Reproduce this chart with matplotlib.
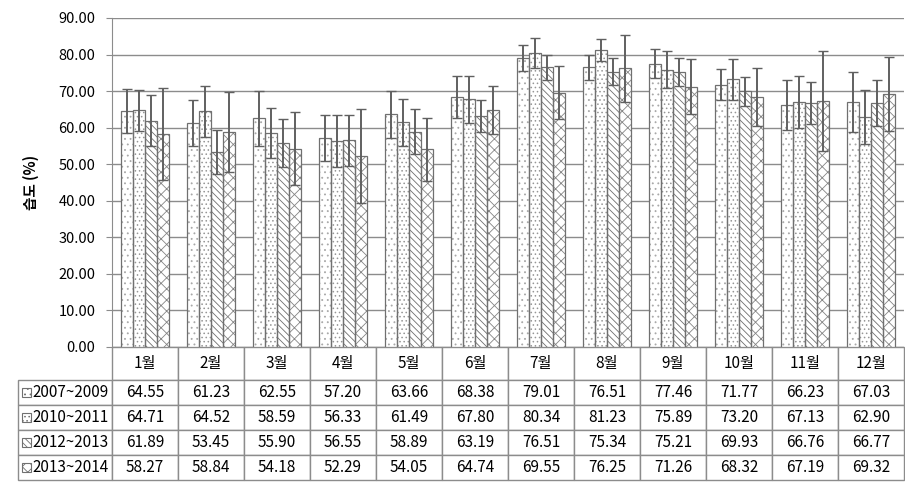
import numpy as np
import matplotlib
matplotlib.use('Agg')
import matplotlib.pyplot as plt
from matplotlib.patches import Rectangle

plt.rcParams['font.family'] = ['Noto Sans CJK KR', 'DejaVu Sans']
plt.rcParams['hatch.linewidth'] = 0.6

# monthly mean humidity (%) for four periods
months = ['1월', '2월', '3월', '4월', '5월', '6월', '7월', '8월', '9월', '10월', '11월', '12월']
periods = ['2007~2009', '2010~2011', '2012~2013', '2013~2014']
h0709 = [64.55, 61.23, 62.55, 57.20, 63.66, 68.38, 79.01, 76.51, 77.46, 71.77, 66.23, 67.03]
h1011 = [64.71, 64.52, 58.59, 56.33, 61.49, 67.80, 80.34, 81.23, 75.89, 73.20, 67.13, 62.90]
h1213 = [61.89, 53.45, 55.90, 56.55, 58.89, 63.19, 76.51, 75.34, 75.21, 69.93, 66.76, 66.77]
h1314 = [58.27, 58.84, 54.18, 52.29, 54.05, 64.74, 69.55, 76.25, 71.26, 68.32, 67.19, 69.32]

# error bar half-lengths
sd0709 = [6.0, 6.3, 7.6, 6.4, 6.4, 5.8, 3.6, 3.5, 4.0, 4.2, 6.8, 8.2]
sd1011 = [5.5, 7.0, 6.8, 7.0, 6.4, 6.4, 4.1, 3.1, 5.0, 5.5, 7.1, 7.3]
sd1213 = [7.0, 6.0, 6.6, 6.9, 6.1, 4.3, 3.4, 3.8, 3.8, 4.0, 5.7, 6.4]
sd1314 = [12.5, 11.0, 10.0, 12.8, 8.6, 6.6, 7.3, 9.2, 7.5, 8.0, 13.7, 10.1]

series = [h0709, h1011, h1213, h1314]
errors = [sd0709, sd1011, sd1213, sd1314]
hatches = ['...', '....', '\\\\\\\\\\', 'xxx']
hatch_cols = ['#a8a8a8', '#969696', '#6e6e6e', '#858585']

W, H = 905, 487
fig = plt.figure(figsize=(W / 100, H / 100), dpi=100)
ax = fig.add_axes([112 / W, 1 - 347 / H, 792 / W, 329 / H])

x = np.arange(len(months))
width = 0.18
for i, (vals, err, hat) in enumerate(zip(series, errors, hatches)):
    pos = x + (i - 1.5) * width
    ax.bar(pos, vals, width, color='white', edgecolor=hatch_cols[i], hatch=hat,
           linewidth=0, zorder=2)
    ax.bar(pos, vals, width, fill=False, edgecolor='#707070', linewidth=0.9, zorder=3)
    eb = ax.errorbar(pos, vals, yerr=err, fmt='none', ecolor='#606060',
                     elinewidth=1.4, capsize=3.5, capthick=1, zorder=4)
    for cap in eb[1]:
        cap.set_color('black')

ax.set_xlim(-0.5, len(months) - 0.5)
ax.set_ylim(0, 90)
ax.set_yticks(np.arange(0, 91, 10))
ax.set_yticklabels([f'{v:.2f}' for v in np.arange(0, 91, 10)])
ax.set_xticks([])
ax.yaxis.grid(True, color='#8c8c8c', linewidth=1)
ax.set_axisbelow(True)
for s in ['top', 'right', 'bottom']:
    ax.spines[s].set_visible(False)
ax.spines['left'].set_color('#8c8c8c')
ax.tick_params(axis='y', length=4, color='#8c8c8c', labelsize=10.5, pad=8)
ax.set_ylabel('습도 (%)', fontweight='bold', fontsize=10.5, labelpad=14)

# data table under the chart
rows = [[p] + [f'{v:.2f}' for v in vals] for p, vals in zip(periods, series)]
tab = ax.table(cellText=rows, colLabels=[''] + months,
               colWidths=[94 / 792] + [66 / 792] * len(months),
               cellLoc='center', bbox=[-94 / 792, -133 / 329, 886 / 792, 133 / 329])
tab.auto_set_font_size(False)
tab.set_fontsize(11)
for (r, c), cell in tab.get_celld().items():
    cell.set_height(33 if r == 0 else 25)
    cell.set_edgecolor('#8c8c8c')
    cell.set_linewidth(1)
    if r == 0 and c == 0:
        cell.visible_edges = ''
    elif c == 0:
        cell.get_text().set_horizontalalignment('right')
        cell.PAD = 0.04

# hatched keys in front of the period labels
for i, hat in enumerate(hatches):
    yc = 380 + 25 * i + 12.5
    ax.add_patch(Rectangle(((22 - 112) / 792, (347 - yc - 4.5) / 329), 9 / 792, 9 / 329,
                           transform=ax.transAxes, clip_on=False, facecolor='white',
                           edgecolor='#707070', hatch=hat, linewidth=0.8))

fig.savefig('out.png', dpi=100)
